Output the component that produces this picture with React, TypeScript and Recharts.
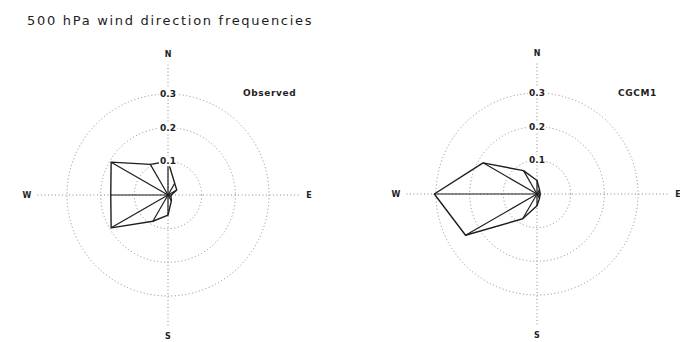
import React from "react";
import {
  RadarChart,
  Radar,
  PolarGrid,
  PolarAngleAxis,
  PolarRadiusAxis,
} from "recharts";

// wind directions (deg, clockwise from N), 30 degree bins
const directions = [0, 30, 60, 90, 120, 150, 180, 210, 240, 270, 300, 330];
const compass: Record<number, string> = { 0: "N", 90: "E", 180: "S", 270: "W" };

// frequencies
const observed = [0.1, 0.04, 0.03, 0.01, 0.01, 0.02, 0.06, 0.09, 0.195, 0.17, 0.195, 0.105];
const cgcm1 = [0.04, 0.015, 0.01, 0.01, 0.01, 0.015, 0.035, 0.085, 0.245, 0.305, 0.185, 0.08];

const radiusTicks = [0.1, 0.2, 0.3];
const R_MAX = 0.395; // axis lines run a bit past the 0.3 ring
const OUTER = 133;

const FONT = "'DejaVu Sans', sans-serif";
const INK = "#1e1e1e";

const toRows = (values: number[]) =>
  directions.map((dir, i) => ({ dir, freq: values[i] }));

// polygon plus a spoke from the centre to every vertex
const RoseShape = (props: any) => {
  const pts = props.points || [];
  const poly = pts.map((p: any) => `${p.x},${p.y}`).join(" ");
  return (
    <g>
      {pts.map((p: any, i: number) => (
        <line
          key={i}
          x1={p.cx}
          y1={p.cy}
          x2={p.x}
          y2={p.y}
          stroke={INK}
          strokeWidth={1.2}
        />
      ))}
      <polygon points={poly} fill="none" stroke={INK} strokeWidth={1.4} strokeLinejoin="round" />
    </g>
  );
};

const AngleTick = (props: any) => {
  const label = compass[props.payload.value];
  if (!label) return <g />;
  return (
    <text
      x={props.x}
      y={props.y}
      textAnchor="middle"
      dominantBaseline="central"
      fontFamily={FONT}
      fontSize={8}
      fontWeight="bold"
      fill={INK}
    >
      {label}
    </text>
  );
};

const RadiusTick = (props: any) => {
  const v = props.payload.value;
  if (!v) return <g />;
  return (
    <g>
      <rect x={props.x - 9} y={props.y - 5} width={18} height={10} fill="#fff" />
      <text
        x={props.x}
        y={props.y}
        textAnchor="middle"
        dominantBaseline="central"
        fontFamily={FONT}
        fontSize={9}
        fontWeight="bold"
        fill={INK}
      >
        {v.toFixed(1)}
      </text>
    </g>
  );
};

const Rose = ({ values, name, cx, cy }: { values: number[]; name: string; cx: number; cy: number }) => (
  <RadarChart width={340} height={342} data={toRows(values)} cx={cx} cy={cy} outerRadius={OUTER} margin={{ top: 0, right: 0, bottom: 0, left: 0 }}>
    <PolarGrid
      gridType="circle"
      polarAngles={[0, 90, 180, 270]}
      polarRadius={radiusTicks.map((t) => (t / R_MAX) * OUTER)}
      stroke="#8a8a8a"
      strokeDasharray="1 2.5"
    />
    <PolarAngleAxis dataKey="dir" tickLine={false} axisLine={false} tickSize={8} tick={<AngleTick />} />
    <PolarRadiusAxis
      angle={90}
      domain={[0, R_MAX]}
      allowDataOverflow
      ticks={radiusTicks as any}
      axisLine={false}
      tick={<RadiusTick />}
    />
    <Radar name={name} dataKey="freq" shape={<RoseShape />} isAnimationActive={false} />
  </RadarChart>
);

export default function App() {
  return (
    <div style={{ position: "relative", width: 683, height: 342, background: "#fff", fontFamily: FONT }}>
      <style>{"body{margin:0}"}</style>
      <div style={{ position: "absolute", left: 27, top: 13, fontSize: 13, letterSpacing: 1.7, color: INK }}>
        500 hPa wind direction frequencies
      </div>
      <div style={{ position: "absolute", left: 0, top: 0 }}>
        <Rose values={observed} name="Observed" cx={168} cy={195} />
      </div>
      <div style={{ position: "absolute", left: 340, top: 0 }}>
        <Rose values={cgcm1} name="CGCM1" cx={197} cy={194} />
      </div>
      <div style={{ position: "absolute", left: 243, top: 88, fontSize: 9, fontWeight: "bold", color: INK, letterSpacing: 0.6 }}>
        Observed
      </div>
      <div style={{ position: "absolute", left: 618, top: 88, fontSize: 9, fontWeight: "bold", color: INK, letterSpacing: 0.6 }}>
        CGCM1
      </div>
    </div>
  );
}
